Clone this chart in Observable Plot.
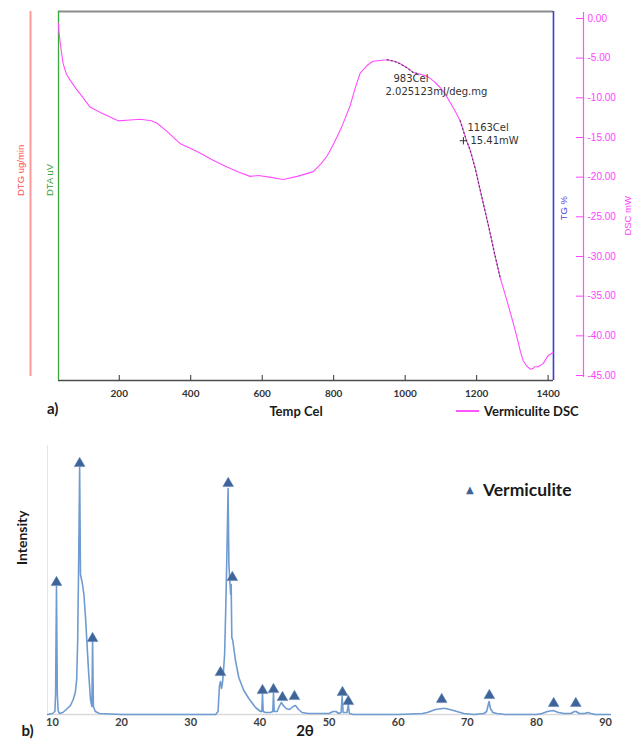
<!DOCTYPE html>
<html>
<head>
<meta charset="utf-8">
<script src="https://cdn.jsdelivr.net/npm/d3@7"></script>
<script src="https://cdn.jsdelivr.net/npm/@observablehq/plot@0.6"></script>
<style>
  body { margin: 0; background: #fff; }
  #wrap { position: relative; width: 641px; height: 744px; overflow: hidden; background: #fff; }
  .abs { position: absolute; white-space: nowrap; }
  .calib { font-family: Lato, "DejaVu Sans", sans-serif; font-weight: bold; color: #1a1a1a; }
</style>
</head>
<body>
<div id="wrap">
  <div id="topChart" class="abs" style="left:0;top:0"></div>
  <div class="abs calib" style="left:47px;top:397px;font-size:15px;line-height:22px">a)</div>
  <div class="abs calib" style="left:236px;top:401px;width:120px;text-align:center;font-size:13px;line-height:20px">Temp Cel</div>
  <div class="abs" style="left:456px;top:410px;width:23px;height:2px;background:#ff55ff"></div>
  <div class="abs calib" style="left:484px;top:401px;font-size:13px;line-height:20px">Vermiculite DSC</div>
  <div id="botChart" class="abs" style="left:0;top:420px"></div>
  <div class="abs" style="left:466px;top:481px;font-family:'DejaVu Sans';font-size:10px;line-height:18px;color:#3e6498">▲</div>
  <div class="abs calib" style="left:483px;top:478px;font-size:17.5px;line-height:24px">Vermiculite</div>
</div>
<script>
// ---------- (a) DSC curve ----------
const dscTemp = [30, 31, 36, 43, 52, 63, 80, 99, 119, 150, 197, 230, 259, 290, 306, 335, 371, 400, 427, 460,
  491, 530, 566, 589, 620, 659, 698, 743, 765, 782, 800, 818, 833, 846, 860, 874, 894, 910, 930, 950,
  970, 986, 1005, 1022, 1040, 1062, 1080, 1098, 1112, 1126, 1140, 1154, 1171, 1182, 1196, 1215, 1235, 1250, 1266, 1285,
  1300, 1313, 1322, 1330, 1340, 1350, 1358, 1362, 1372, 1386, 1393, 1400, 1407, 1414];
const dscMw = [-0.6, -1.6, -3.5, -5.7, -7.0, -7.8, -8.9, -10.0, -11.2, -11.9, -12.9, -12.8, -12.7, -12.9, -13.2, -14.3, -15.8, -16.4, -17.0, -17.8,
  -18.5, -19.3, -19.9, -19.8, -20.0, -20.3, -19.9, -19.3, -18.3, -17.3, -15.8, -14.1, -12.5, -11.0, -8.8, -6.9, -5.9, -5.4, -5.3, -5.2,
  -5.4, -5.7, -6.2, -6.8, -7.0, -7.3, -7.9, -8.7, -9.5, -10.6, -11.7, -12.9, -15.3, -16.6, -18.9, -22.6, -26.5, -29.6, -32.7, -35.6,
  -38.0, -40.2, -41.9, -43.1, -43.8, -44.2, -44.1, -43.9, -43.9, -43.5, -43.0, -42.5, -42.3, -42.1];
const tempTicks = [200, 400, 600, 800, 1000, 1200, 1400];
const dscTicks = [0, -5, -10, -15, -20, -25, -30, -35, -40, -45];
const tempScale = [30, 1499];        // x extent incl. gap to DSC axis
const frameTemp = [30, 1415];        // plot frame (temperature)
const frameDsc = [-45.63, 0.88];     // plot frame (mW)
const dscAxisExtent = [-45.25, 0.76];
const dtgExtent = [-45.12, 0.88];
const markRanges = [[950, 1040], [1154, 1266]];
const annTemp = [983, 1163];
const annMw = [null, -15.41];
const annLine1 = ["983Cel", "1163Cel"];
const annLine2 = ["2.025123mJ/deg.mg", "15.41mW"];

const dsc = dscTemp.map((t, i) => ({t, v: dscMw[i]}));
function curveAt(t) {
  for (let i = 1; i < dsc.length; i++) {
    if (dsc[i].t >= t) {
      const a = dsc[i - 1], b = dsc[i];
      return a.v + (b.v - a.v) * (t - a.t) / (b.t - a.t);
    }
  }
  return dsc[dsc.length - 1].v;
}
const ann = annTemp.map((t, i) => ({t, v: annMw[i] ?? curveAt(t), l1: annLine1[i], l2: annLine2[i]}));

const sideFont = "Liberation Sans, Arial, sans-serif";
const tahoma = "DejaVu Sans, sans-serif";

const topPlot = Plot.plot({
  width: 641, height: 400,
  marginLeft: 58, marginRight: 58, marginTop: 11, marginBottom: 20,
  x: {domain: tempScale, axis: null},
  y: {domain: frameDsc, axis: null},
  style: {fontFamily: sideFont, background: "transparent"},
  marks: [
    Plot.ruleX([frameTemp[0]], {y1: dtgExtent[0], y2: dtgExtent[1], dx: -28, stroke: "#ff9a9a", strokeWidth: 2}),
    Plot.ruleY([frameDsc[1]], {x1: frameTemp[0], x2: frameTemp[1], stroke: "#8c8c8c", strokeWidth: 2}),
    Plot.ruleY([frameDsc[0]], {x1: frameTemp[0], x2: frameTemp[1], stroke: "#4d4d4d", strokeWidth: 1.5}),
    Plot.ruleX([frameTemp[0]], {y1: frameDsc[0], y2: frameDsc[1], stroke: "#3aa83a", strokeWidth: 1.3}),
    Plot.ruleX([frameTemp[1]], {y1: frameDsc[0], y2: frameDsc[1], stroke: "#3b3bd6", strokeWidth: 1.6}),
    Plot.ruleX([tempScale[1]], {y1: dscAxisExtent[0], y2: dscAxisExtent[1], stroke: "#ff55ff", strokeWidth: 1.2}),
    Plot.axisY({anchor: "right", ticks: dscTicks, tickFormat: d => d.toFixed(2), tickSize: 8, tickPadding: 4, dx: -8,
      color: "#ff44ff", fontSize: 10, fontFamily: sideFont, label: null}),
    Plot.axisX({ticks: tempTicks, tickFormat: d => String(d), tickSize: 5, tickPadding: 9, dy: -5, color: "#333", fontSize: 10,
      fontWeight: "bold", fontFamily: "Lato, sans-serif", label: null}),
    Plot.line(dsc, {x: "t", y: "v", stroke: "#ff4dff", strokeWidth: 1.1}),
    ...markRanges.map(([a, b]) => Plot.line(dsc.filter(d => d.t >= a && d.t <= b),
      {x: "t", y: "v", stroke: "#333", strokeWidth: 1.3, strokeDasharray: "1,3", strokeOpacity: 0.8})),
    Plot.text(["DTG ug/min"], {text: d => d, frameAnchor: "left", dx: -38, rotate: -90, fill: "#ff5050", fontSize: 9.5}),
    Plot.text(["DTA uV"], {text: d => d, frameAnchor: "left", dx: -9, rotate: -90, fill: "#33a033", fontSize: 9.5}),
    Plot.text(["TG %"], {text: d => d, frameAnchor: "right", dx: -20, rotate: -90, fill: "#4a4ae0", fontSize: 9.5}),
    Plot.text(["DSC mW"], {text: d => d, frameAnchor: "right", dx: 44, rotate: -90, fill: "#ff44ff", fontSize: 9.5}),
    Plot.text([ann[0]], {x: "t", y: "v", text: "l1", textAnchor: "start", dx: -5.6, dy: 16, fill: "#333", fontSize: 10, fontFamily: tahoma}),
    Plot.text([ann[0]], {x: "t", y: "v", text: "l2", textAnchor: "start", dx: -13.6, dy: 29, fill: "#333", fontSize: 10, fontFamily: tahoma}),
    Plot.text([ann[1]], {x: "t", y: "v", text: "l1", textAnchor: "start", dx: 4, dy: -13, fill: "#333", fontSize: 10, fontFamily: tahoma}),
    Plot.text([ann[1]], {x: "t", y: "v", text: "l2", textAnchor: "start", dx: 7, dy: 0, fill: "#333", fontSize: 10, fontFamily: tahoma}),
    Plot.dot([ann[1]], {x: "t", y: "v", symbol: "plus", r: 2.5, stroke: "#333", strokeWidth: 1})
  ]
});
document.getElementById("topChart").appendChild(topPlot);

// ---------- (b) XRD pattern ----------
const xrdTheta = [9.3, 10.0, 10.35, 10.45, 10.58, 10.7, 10.82, 11.0, 11.5, 12.0, 12.6, 13.0, 13.3, 13.5, 13.65, 13.8, 13.93, 14.05, 14.3, 14.55,
  14.8, 15.0, 15.25, 15.5, 15.7, 15.8, 15.92, 16.2, 16.8, 20, 25, 30, 33.6, 33.95, 34.15, 34.3, 34.45, 34.6, 34.75, 34.9,
  35.07, 35.27, 35.4, 35.52, 35.65, 35.78, 35.85, 35.94, 36.08, 36.47, 36.95, 37.68, 38.4, 39.37, 40.1, 40.28, 40.38, 40.48, 40.8, 41.5,
  41.87, 41.97, 42.07, 42.5, 42.8, 43.1, 43.5, 43.8, 44.3, 44.8, 45.15, 45.6, 46.1, 47, 48.3, 50.0, 50.6, 51.0, 51.4, 51.75,
  51.9, 52.05, 52.6, 52.8, 52.95, 53.5, 55, 60, 63.5, 64.2, 65.4, 66.4, 66.9, 68.0, 69.5, 71, 72.4, 72.8, 73.15, 73.35,
  73.7, 74.3, 75.5, 80.0, 80.8, 81.6, 82.4, 83.2, 84.0, 85.0, 85.5, 85.75, 86.2, 87.0, 87.4, 87.9, 88.5, 90.0, 90.7];
const xrdIntensity = [0, 1, 3, 20, 128, 20, 4, 1, 2, 5, 9, 15, 22, 35, 75, 160, 247, 140, 132, 120,
  95, 70, 40, 15, 8, 73, 8, 3, 1, 0, 0, 0, 0, 3, 28, 33, 26, 32, 45, 60,
  107, 174, 226, 150, 134, 120, 130, 77, 74, 54, 37, 24, 16, 7, 3, 3, 21, 3, 2, 2,
  3, 21, 3, 3, 8, 12, 8, 6, 5, 8, 9, 5, 2, 1, 1, 1, 3, 3, 1, 2,
  18, 2, 2, 10, 1, 0, 0, 0, 1, 2, 5, 6, 6, 4, 1, 0, 1, 3, 13, 6,
  2, 1, 0, 0, 1, 3, 4, 2, 1, 1, 3, 3, 1, 1, 2, 1, 0, 0, 0];
const vermTheta = [10.58, 13.93, 15.8, 34.3, 35.42, 36.02, 40.38, 41.97, 43.27, 45.0, 51.95, 52.8, 66.3, 73.2, 82.5, 85.7];
const vermIntensity = [132, 251, 76, 42, 231, 137, 24, 25, 17, 18, 22, 13, 15, 19, 11, 11];
const thetaTicks = [10, 20, 30, 40, 50, 60, 70, 80, 90];
const thetaDomain = [9.28, 90.72];
const intensityDomain = [0, 269];

const xrd = xrdTheta.map((t, i) => ({t, i: xrdIntensity[i]}));
const verm = vermTheta.map((t, i) => ({t, i: vermIntensity[i]}));

const botPlot = Plot.plot({
  width: 641, height: 324,
  marginLeft: 47, marginRight: 31, marginTop: 25, marginBottom: 30,
  x: {domain: thetaDomain, axis: null},
  y: {domain: intensityDomain, axis: null},
  style: {fontFamily: "Lato, DejaVu Sans, sans-serif", background: "transparent"},
  marks: [
    Plot.ruleX([thetaDomain[0]], {y1: intensityDomain[0], y2: intensityDomain[1], stroke: "#e4e4e4", strokeWidth: 1}),
    Plot.ruleY([intensityDomain[0]], {x1: thetaDomain[0], x2: thetaDomain[1], stroke: "#d9d9d9", strokeWidth: 1.5}),
    Plot.axisX({ticks: thetaTicks, tickSize: 0, tickPadding: 4, color: "#404040", fontSize: 11, fontWeight: "bold", label: null}),
    Plot.line(xrd, {x: "t", y: "i", stroke: "#6f9bd1", strokeWidth: 1.6}),
    Plot.dot(verm, {x: "t", y: "i", symbol: "triangle", r: 4, fill: "#3e6498", stroke: "#5a80b5", strokeWidth: 0.5}),
    Plot.text(["Intensity"], {text: d => d, frameAnchor: "left", dx: -25, dy: -15, rotate: -90, fontSize: 14, fontWeight: "bold", fill: "#1a1a1a"}),
    Plot.text(["2θ"], {text: d => d, frameAnchor: "bottom", dx: -24, dy: 21, fontSize: 15, fontWeight: "bold", fill: "#1a1a1a"}),
    Plot.text(["b)"], {text: d => d, frameAnchor: "bottom-left", dx: -26, dy: 21, fontSize: 15, fontWeight: "bold", fill: "#1a1a1a"})
  ]
});
document.getElementById("botChart").appendChild(botPlot);
</script>
</body>
</html>
